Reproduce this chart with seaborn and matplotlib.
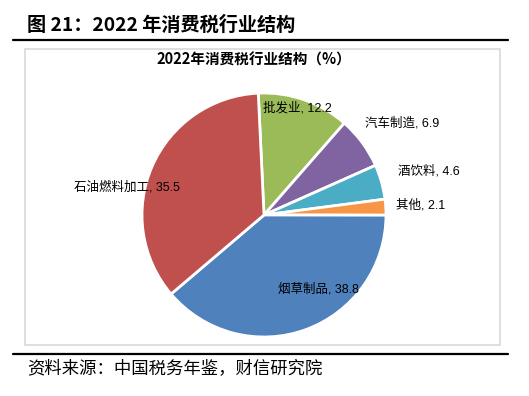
import matplotlib
matplotlib.use("Agg")
import matplotlib.pyplot as plt
import seaborn as sns
import numpy as np
from matplotlib.patches import Rectangle
from matplotlib.lines import Line2D

sns.set_theme(style="white")
plt.rcParams['font.family'] = ['Noto Sans CJK SC', 'DejaVu Sans']

categories = ["批发业", "汽车制造", "酒饮料", "其他", "烟草制品", "石油燃料加工"]
values = [12.2, 6.9, 4.6, 2.1, 38.8, 35.5]
colors = ["#9BBB59", "#8064A2", "#4BACC6", "#F79646", "#4F81BD", "#C0504D"]
# label placement style: radial distance factor and angular shift (deg)
label_r = [0.92, 1.36, 1.40, 1.29, 0.75, 1.15]
label_dang = [2, -3, -1, 0, 16, 12]

W, H = 529, 396
fig = plt.figure(figsize=(W / 100, H / 100), dpi=100)

def fx(x):
    return x / W

def fy(y):
    return 1 - y / H

# header / footer
fig.text(fx(27), fy(25), "图 21：2022 年消费税行业结构", fontsize=13.8, fontweight="bold",
         ha="left", va="center", color="black")
fig.add_artist(Line2D([fx(13), fx(508)], [fy(40), fy(40)], color="black", lw=1.6,
                      transform=fig.transFigure))
fig.add_artist(Rectangle((fx(25), fy(345)), fx(500) - fx(25), fy(49) - fy(345),
                         transform=fig.transFigure, fill=False, edgecolor="#D9D9D9", lw=1.2))
fig.add_artist(Line2D([fx(13), fx(508)], [fy(354), fy(354)], color="black", lw=1.6,
                      transform=fig.transFigure))
fig.text(fx(27), fy(368), "资料来源：中国税务年鉴，财信研究院", fontsize=12.5, style="italic",
         ha="left", va="center", color="black")
fig.text(fx(254), fy(60), "2022年消费税行业结构（%）", fontsize=10.5, fontweight="bold",
         ha="center", va="center", color="black")

# pie
cx, cy, R = 264, 215, 122
ax = fig.add_axes([fx(cx - R), fy(cy + R), 2 * R / W, 2 * R / H])
wedges, _ = ax.pie(values, colors=colors, startangle=92.7, counterclock=False,
                   wedgeprops=dict(edgecolor="white", linewidth=2))
ax.set_xlim(-1, 1)
ax.set_ylim(-1, 1)
ax.set_aspect("equal")
ax.axis("off")

for w, name, v, r, da in zip(wedges, categories, values, label_r, label_dang):
    ang = np.deg2rad((w.theta1 + w.theta2) / 2 + da)
    ax.text(r * np.cos(ang), r * np.sin(ang), f"{name}, {v}", fontsize=9,
            ha="center", va="center", color="black",
            family=['Liberation Sans', 'Noto Sans CJK SC'])

fig.savefig("out.png", dpi=100)
